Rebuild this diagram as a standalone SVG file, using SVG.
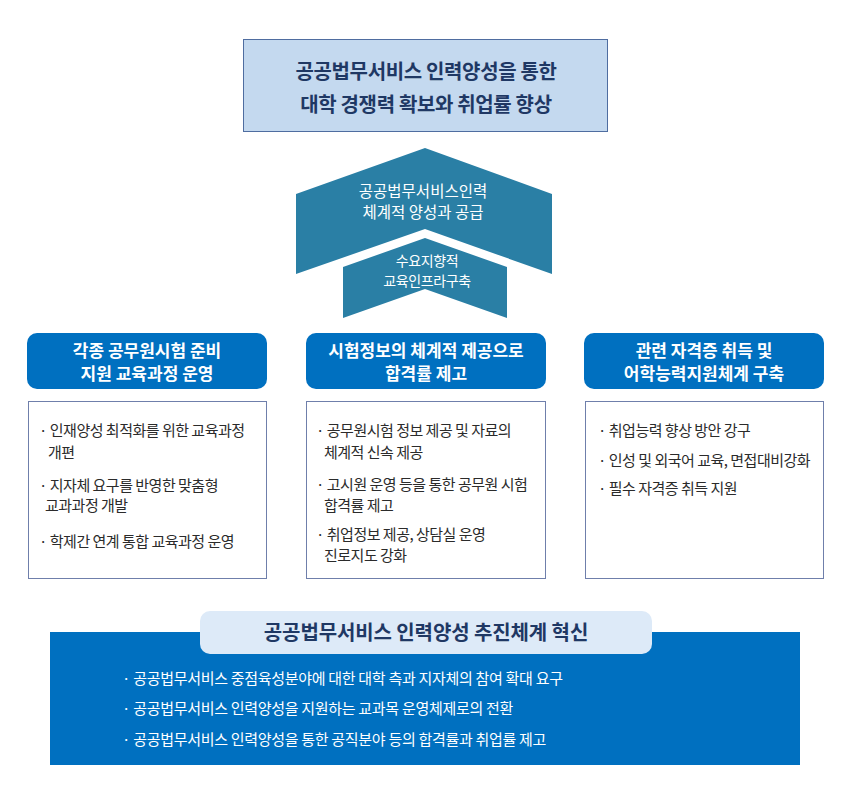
<svg xmlns="http://www.w3.org/2000/svg" width="850" height="800" viewBox="0 0 850 800">
<style>
text{font-family:"Noto Sans CJK KR","Noto Sans",sans-serif;}
.title{font-size:20px;font-weight:bold;fill:#1f3864;letter-spacing:-0.35px;text-anchor:middle;}
.pill{font-size:20px;font-weight:bold;fill:#1f3864;letter-spacing:-0.1px;text-anchor:middle;}
.chev{fill:#2a7fa5;}
.chevt{fill:#fff;text-anchor:middle;}
.hdr{fill:#0070c0;}
.hdrt{fill:#fff;font-size:17px;font-weight:bold;text-anchor:middle;letter-spacing:0px;}
.box{fill:#fff;stroke:#6f7fab;stroke-width:1;}
.body{fill:#2b2b2b;font-size:15px;letter-spacing:-0.5px;}
.foot{fill:#fff;font-size:15px;letter-spacing:-0.3px;}
</style>
<rect width="850" height="800" fill="#fff"/>
<g id="goal">
<rect x="243.5" y="39.5" width="364" height="92" fill="#c4d9ef" stroke="#4f6da0" stroke-width="1"/>
<text class="title" x="426" y="79">공공법무서비스 인력양성을 통한</text>
<text class="title" x="426" y="112">대학 경쟁력 확보와 취업률 향상</text>
</g>
<g id="chevron-top">
<polygon class="chev" points="425,148 552,194 552,274 425,229 296,274 296,194"/>
<text class="chevt" x="423" y="197" font-size="15.5">공공법무서비스인력</text>
<text class="chevt" x="423" y="218" font-size="15.5">체계적 양성과 공급</text>
</g>
<g id="chevron-bottom">
<polygon class="chev" points="425,238 507,267 507,318 425,289 343,318 343,267"/>
<text class="chevt" x="427" y="266" font-size="14" letter-spacing="-0.4">수요지향적</text>
<text class="chevt" x="427" y="286" font-size="14" letter-spacing="-0.4">교육인프라구축</text>
</g>
<g id="col1">
<rect class="hdr" x="27" y="333" width="240" height="56" rx="10"/>
<text class="hdrt" x="147" y="357">각종 공무원시험 준비</text>
<text class="hdrt" x="147" y="380">지원 교육과정 운영</text>
<rect class="box" x="28.5" y="401.5" width="238" height="177"/>
<text class="body" x="39" y="436">· 인재양성 최적화를 위한 교육과정</text>
<text class="body" x="48" y="458">개편</text>
<text class="body" x="39" y="491">· 지자체 요구를 반영한 맞춤형</text>
<text class="body" x="45" y="511">교과과정 개발</text>
<text class="body" x="39" y="547">· 학제간 연계 통합 교육과정 운영</text>
</g>
<g id="col2">
<rect class="hdr" x="306" y="333" width="240" height="56" rx="10"/>
<text class="hdrt" x="426" y="357">시험정보의 체계적 제공으로</text>
<text class="hdrt" x="426" y="380">합격률 제고</text>
<rect class="box" x="306.5" y="401.5" width="239" height="177"/>
<text class="body" x="316" y="436">· 공무원시험 정보 제공 및 자료의</text>
<text class="body" x="324" y="458">체계적 신속 제공</text>
<text class="body" x="316" y="490">· 고시원 운영 등을 통한 공무원 시험</text>
<text class="body" x="324" y="511">합격률 제고</text>
<text class="body" x="316" y="540">· 취업정보 제공, 상담실 운영</text>
<text class="body" x="324" y="561">진로지도 강화</text>
</g>
<g id="col3">
<rect class="hdr" x="584" y="333" width="240" height="56" rx="10"/>
<text class="hdrt" x="704" y="357">관련 자격증 취득 및</text>
<text class="hdrt" x="704" y="380">어학능력지원체계 구축</text>
<rect class="box" x="585.5" y="401.5" width="238" height="177"/>
<text class="body" x="598" y="436">· 취업능력 향상 방안 강구</text>
<text class="body" x="598" y="466">· 인성 및 외국어 교육, 면접대비강화</text>
<text class="body" x="598" y="494">· 필수 자격증 취득 지원</text>
</g>
<g id="innovation">
<rect x="50" y="632" width="750" height="133" fill="#0070c0"/>
<rect x="200" y="611" width="452" height="43" rx="10" fill="#ddeaf8"/>
<text class="pill" x="426" y="640">공공법무서비스 인력양성 추진체계 혁신</text>
<text class="foot" x="122" y="684">· 공공법무서비스 중점육성분야에 대한 대학 측과 지자체의 참여 확대 요구</text>
<text class="foot" x="122" y="714">· 공공법무서비스 인력양성을 지원하는 교과목 운영체제로의 전환</text>
<text class="foot" x="122" y="745">· 공공법무서비스 인력양성을 통한 공직분야 등의 합격률과 취업률 제고</text>
</g>
<g id="connectors"></g>
</svg>
